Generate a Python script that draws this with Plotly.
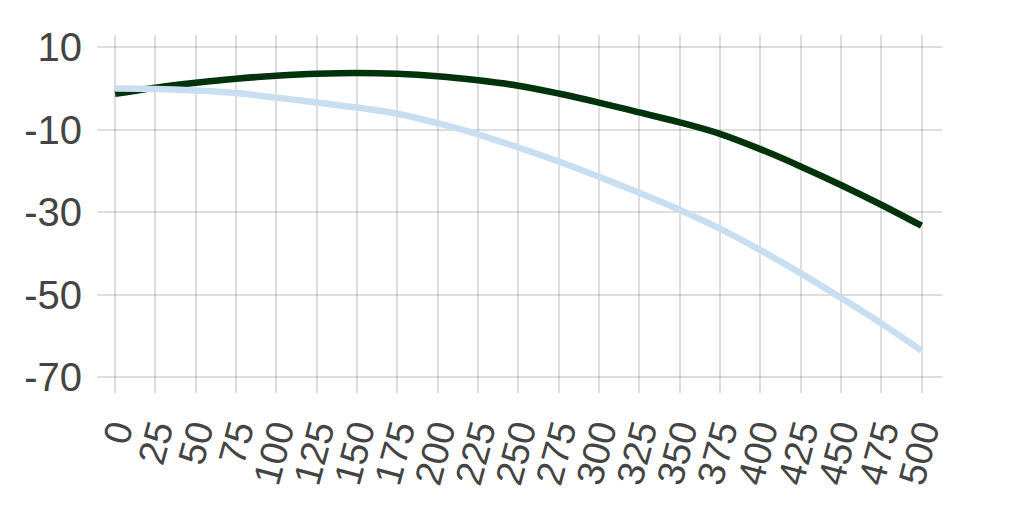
import plotly.graph_objects as go

distance = [0, 25, 50, 75, 100, 125, 150, 175, 200, 225, 250,
            275, 300, 325, 350, 375, 400, 425, 450, 475, 500]
dark_series = [-1.3, 0.2, 1.4, 2.4, 3.1, 3.6, 3.8, 3.6, 3.0, 2.0, 0.7,
               -1.2, -3.4, -5.8, -8.2, -11.0, -14.7, -18.9, -23.4, -28.2, -33.3]
light_series = [0.0, -0.1, -0.5, -1.1, -2.2, -3.4, -4.6, -6.1, -8.4, -11.1, -14.3,
                -17.7, -21.4, -25.3, -29.4, -34.0, -39.2, -44.8, -50.8, -57.0, -63.6]
y_ticks = [10, -10, -30, -50, -70]

fig = go.Figure()
fig.add_trace(go.Scatter(x=distance, y=dark_series, mode="lines",
                         line=dict(color="#00330c", width=6.5, shape="spline"),
                         hoverinfo="skip", showlegend=False))
fig.add_trace(go.Scatter(x=distance, y=light_series, mode="lines",
                         line=dict(color="#c9dff1", width=6.5, shape="spline"),
                         hoverinfo="skip", showlegend=False))

grid = "rgba(0,0,0,0.13)"
fig.update_layout(
    width=1024, height=525,
    margin=dict(l=89, r=90, t=27, b=140),
    paper_bgcolor="white", plot_bgcolor="white",
    font=dict(family="Liberation Sans, Arial, sans-serif", color="#444"),
    xaxis=dict(range=[-11.2, 512.7], tickmode="linear", tick0=0, dtick=25,
               tickangle=-75, showgrid=True, gridcolor=grid, gridwidth=2,
               zeroline=False, showline=False, ticks="", automargin=False,
               tickfont=dict(size=38), ticklabelstandoff=8),
    yaxis=dict(range=[-73.9, 13.0], tickmode="array", tickvals=y_ticks,
               ticktext=[str(v) for v in y_ticks],
               showgrid=True, gridcolor=grid, gridwidth=2,
               zeroline=False, showline=False, ticks="", automargin=False,
               tickfont=dict(size=40), ticklabelstandoff=14),
)

fig.write_html("out.html", config={"displayModeBar": False})
